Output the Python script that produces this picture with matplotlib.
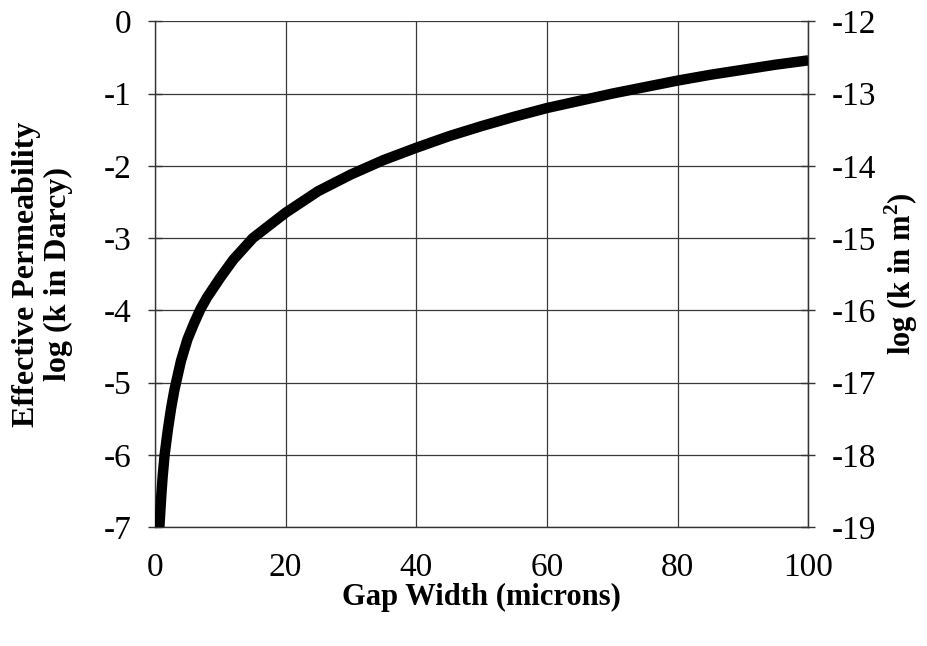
import matplotlib
matplotlib.use("Agg")
import matplotlib.pyplot as plt

# values
gap_width = [0.7, 1, 1.2, 1.5, 2, 2.5, 3, 4, 5, 6, 7, 8, 10, 12, 15, 20, 25, 30,
             35, 40, 45, 50, 55, 60, 65, 70, 75, 80, 85, 90, 95, 100]
log_k_darcy = [-7.0, -6.55, -6.3, -6.0, -5.65, -5.35, -5.1, -4.7, -4.4, -4.18,
               -3.98, -3.82, -3.55, -3.3, -3.0, -2.65, -2.35, -2.12, -1.92,
               -1.75, -1.59, -1.45, -1.32, -1.2, -1.1, -1.0, -0.91, -0.82,
               -0.74, -0.67, -0.6, -0.54]

x_ticks = [0, 20, 40, 60, 80, 100]
left_ticks = [0, -1, -2, -3, -4, -5, -6, -7]
right_ticks = [-12, -13, -14, -15, -16, -17, -18, -19]

plt.rcParams['font.family'] = ['Liberation Serif', 'DejaVu Serif']
plt.rcParams['mathtext.fontset'] = 'custom'
plt.rcParams['mathtext.rm'] = 'Liberation Serif'
plt.rcParams['mathtext.bf'] = 'Liberation Serif:bold'

fig = plt.figure(figsize=(9.27, 6.46), dpi=100)
ax = fig.add_axes([0.167, 0.184, 0.705, 0.783])

ax.plot(gap_width, log_k_darcy, color='black', lw=7.5, solid_capstyle='butt',
        solid_joinstyle='round', zorder=3)

ax.set_xlim(0, 100)
ax.set_ylim(-7, 0)
ax.set_xticks(x_ticks)
ax.set_yticks(left_ticks)
ax.set_yticklabels([str(t) for t in left_ticks])
ax.grid(True, color='#3a3a3a', lw=0.9)

ax.spines['top'].set_visible(False)
for side in ['left', 'bottom', 'right']:
    ax.spines[side].set_color('#333333')
    ax.spines[side].set_linewidth(1.0)

ax.tick_params(axis='y', direction='inout', length=10, width=1, color='#333333',
               labelsize=24, pad=12)
ax.tick_params(axis='x', direction='in', length=0, labelsize=24, pad=18)

ax.set_xlabel('Gap Width (microns)', fontsize=22, fontweight='bold', labelpad=0)
ax.set_ylabel('Effective Permeability\nlog (k in Darcy)', fontsize=23,
              fontweight='bold', labelpad=22, linespacing=1.1)

ax2 = ax.twinx()
ax2.set_ylim(-19, -12)
ax2.set_yticks(right_ticks)
ax2.set_yticklabels([str(t) for t in right_ticks])
ax2.tick_params(axis='y', direction='inout', length=10, width=1, color='#333333',
                labelsize=24, pad=12)
for side in ['top', 'left', 'bottom']:
    ax2.spines[side].set_visible(False)
ax2.spines['right'].set_color('#333333')
ax2.set_ylabel(r'log (k in m$^\mathbf{2}$)', fontsize=22, fontweight='bold', labelpad=4)

fig.savefig('out.png', dpi=100, facecolor='white')
